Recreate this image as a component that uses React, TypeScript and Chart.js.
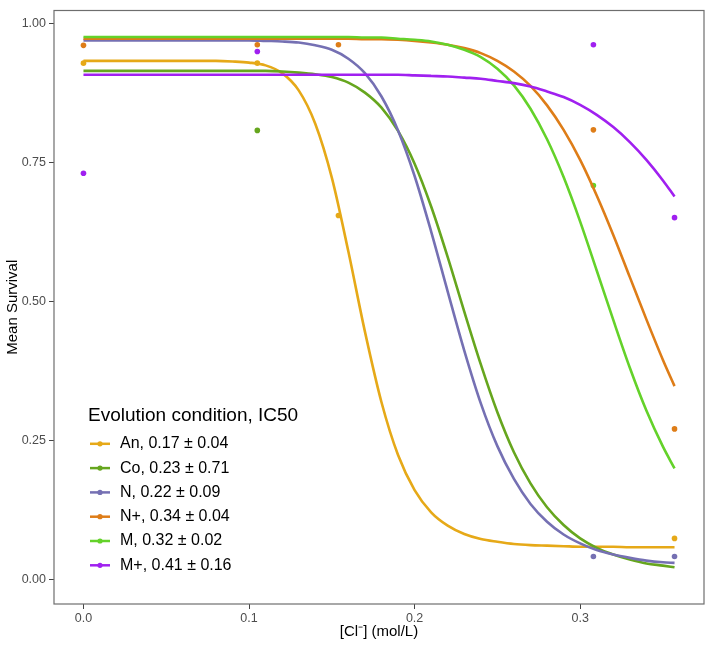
import React, { useEffect, useRef } from 'react';
import { Chart, registerables } from 'chart.js';

Chart.register(...registerables);

// ---------- data ----------
const SERIES_NAMES = ['An', 'Co', 'N', 'N+', 'M', 'M+'];
const IC50_TEXT = ['0.17 ± 0.04', '0.23 ± 0.71', '0.22 ± 0.09', '0.34 ± 0.04', '0.32 ± 0.02', '0.41 ± 0.16'];
const SERIES_COLORS = ['#E6A918', '#66A61E', '#7570B3', '#DE7D18', '#64D22A', '#A020F0'];
const LEGEND_TITLE = 'Evolution condition, IC50';
const X_TITLE = '[Cl\u207B] (mol/L)';
const Y_TITLE = 'Mean Survival';

// concentrations at which the fitted curves were read
const CONC_GRID = [0, 0.01, 0.02, 0.03, 0.04, 0.05, 0.06, 0.07, 0.08, 0.09, 0.10, 0.11, 0.12, 0.13, 0.14, 0.15, 0.16, 0.17, 0.18, 0.19, 0.20, 0.21, 0.22, 0.23, 0.24, 0.25, 0.26, 0.27, 0.28, 0.29, 0.30, 0.31, 0.32, 0.33, 0.34, 0.35, 0.357];

// fitted curves
const FIT_AN = [0.933, 0.933, 0.933, 0.933, 0.933, 0.933, 0.933, 0.933, 0.933, 0.932, 0.930, 0.925, 0.911, 0.880, 0.820, 0.723, 0.590, 0.446, 0.319, 0.224, 0.161, 0.121, 0.097, 0.082, 0.073, 0.068, 0.064, 0.062, 0.061, 0.060, 0.059, 0.059, 0.059, 0.058, 0.058, 0.058, 0.058];
const FIT_CO = [0.915, 0.915, 0.915, 0.915, 0.915, 0.915, 0.915, 0.915, 0.915, 0.915, 0.915, 0.915, 0.914, 0.912, 0.909, 0.904, 0.894, 0.876, 0.849, 0.807, 0.748, 0.671, 0.580, 0.482, 0.387, 0.301, 0.229, 0.173, 0.130, 0.098, 0.074, 0.057, 0.045, 0.036, 0.029, 0.025, 0.022];
const FIT_N = [0.970, 0.970, 0.970, 0.970, 0.970, 0.970, 0.970, 0.970, 0.970, 0.970, 0.970, 0.969, 0.968, 0.966, 0.961, 0.953, 0.937, 0.911, 0.869, 0.808, 0.726, 0.626, 0.518, 0.412, 0.317, 0.240, 0.181, 0.136, 0.104, 0.081, 0.065, 0.053, 0.045, 0.039, 0.034, 0.031, 0.030];
const FIT_NPLUS = [0.973, 0.973, 0.973, 0.973, 0.973, 0.973, 0.973, 0.973, 0.973, 0.973, 0.973, 0.973, 0.973, 0.973, 0.973, 0.973, 0.973, 0.972, 0.972, 0.971, 0.969, 0.966, 0.962, 0.956, 0.947, 0.933, 0.914, 0.888, 0.853, 0.809, 0.755, 0.691, 0.620, 0.544, 0.468, 0.395, 0.348];
const FIT_M = [0.976, 0.976, 0.976, 0.976, 0.976, 0.976, 0.976, 0.976, 0.976, 0.976, 0.976, 0.976, 0.976, 0.976, 0.976, 0.976, 0.976, 0.975, 0.975, 0.973, 0.971, 0.968, 0.962, 0.953, 0.940, 0.919, 0.889, 0.847, 0.792, 0.724, 0.644, 0.556, 0.467, 0.381, 0.304, 0.239, 0.200];
const FIT_MPLUS = [0.908, 0.908, 0.908, 0.908, 0.908, 0.908, 0.908, 0.908, 0.908, 0.908, 0.908, 0.908, 0.908, 0.908, 0.908, 0.908, 0.908, 0.908, 0.908, 0.908, 0.907, 0.906, 0.905, 0.903, 0.901, 0.897, 0.893, 0.887, 0.878, 0.868, 0.854, 0.836, 0.814, 0.787, 0.755, 0.718, 0.689];

// observed mean survival
const OBS_AN_X = [0, 0.105, 0.154, 0.357];
const OBS_AN_Y = [0.929, 0.929, 0.655, 0.074];
const OBS_CO_X = [0.105];
const OBS_CO_Y = [0.808];
const OBS_N_X = [0.308, 0.357];
const OBS_N_Y = [0.0415, 0.0415];
const OBS_NPLUS_X = [0, 0.105, 0.154, 0.308, 0.357];
const OBS_NPLUS_Y = [0.961, 0.962, 0.962, 0.809, 0.271];
const OBS_M_X = [0.308];
const OBS_M_Y = [0.709];
const OBS_MPLUS_X = [0, 0.105, 0.308, 0.357];
const OBS_MPLUS_Y = [0.731, 0.950, 0.962, 0.651];

const X_TICKS = [0, 0.1, 0.2, 0.3];
const X_TICK_LABELS = ['0.0', '0.1', '0.2', '0.3'];
const Y_TICKS = [0, 0.25, 0.5, 0.75, 1];
const Y_TICK_LABELS = ['0.00', '0.25', '0.50', '0.75', '1.00'];

const X_MIN = -0.0178;
const X_MAX = 0.3748;
const Y_MIN = -0.044;
const Y_MAX = 1.0237;

const FITS = [FIT_AN, FIT_CO, FIT_N, FIT_NPLUS, FIT_M, FIT_MPLUS];
const OBS_X = [OBS_AN_X, OBS_CO_X, OBS_N_X, OBS_NPLUS_X, OBS_M_X, OBS_MPLUS_X];
const OBS_Y = [OBS_AN_Y, OBS_CO_Y, OBS_N_Y, OBS_NPLUS_Y, OBS_M_Y, OBS_MPLUS_Y];

const FONT = '"Liberation Sans", Arial, Helvetica, sans-serif';

const panelPlugin = {
  id: 'panelAndLegend',
  afterDatasetsDraw(chart: any) {
    const { ctx, chartArea: a } = chart;
    ctx.save();
    ctx.strokeStyle = '#6e6e6e';
    ctx.lineWidth = 1.2;
    ctx.strokeRect(a.left, a.top, a.right - a.left, a.bottom - a.top);

    // legend inside panel
    const lx = a.left;
    ctx.fillStyle = '#000';
    ctx.textAlign = 'left';
    ctx.textBaseline = 'middle';
    ctx.font = `19px ${FONT}`;
    ctx.fillText(LEGEND_TITLE, lx + 34, a.top + 405);
    ctx.font = `16px ${FONT}`;
    SERIES_NAMES.forEach((name, i) => {
      const y = a.top + 433.3 + i * 24.3;
      ctx.strokeStyle = SERIES_COLORS[i];
      ctx.lineWidth = 2.5;
      ctx.beginPath();
      ctx.moveTo(lx + 36, y);
      ctx.lineTo(lx + 56, y);
      ctx.stroke();
      ctx.fillStyle = SERIES_COLORS[i];
      ctx.beginPath();
      ctx.arc(lx + 46, y, 2.6, 0, Math.PI * 2);
      ctx.fill();
      ctx.fillStyle = '#000';
      ctx.fillText(`${name}, ${IC50_TEXT[i]}`, lx + 66, y);
    });
    ctx.restore();
  },
};

export default function App() {
  const ref = useRef<HTMLCanvasElement | null>(null);

  useEffect(() => {
    if (!ref.current) return;
    const datasets: any[] = [];
    SERIES_NAMES.forEach((name, i) => {
      datasets.push({
        type: 'line',
        label: name,
        data: CONC_GRID.map((x, k) => ({ x, y: FITS[i][k] })),
        borderColor: SERIES_COLORS[i],
        backgroundColor: SERIES_COLORS[i],
        borderWidth: 2.6,
        pointRadius: 0,
        fill: false,
        cubicInterpolationMode: 'monotone',
        order: 10 - i,
      });
    });
    SERIES_NAMES.forEach((name, i) => {
      datasets.push({
        type: 'scatter',
        label: name + ' obs',
        data: OBS_X[i].map((x, k) => ({ x, y: OBS_Y[i][k] })),
        backgroundColor: SERIES_COLORS[i],
        borderColor: SERIES_COLORS[i],
        borderWidth: 0,
        pointRadius: 2.8,
        showLine: false,
        order: 30 - i,
      });
    });

    const tickFont = { family: FONT, size: 12.5 };
    const chart = new Chart(ref.current, {
      type: 'scatter',
      data: { datasets },
      options: {
        animation: false,
        responsive: false,
        devicePixelRatio: 1,
        layout: { padding: { left: 0, top: 5, right: 5, bottom: 0 } },
        plugins: { legend: { display: false }, tooltip: { enabled: false }, title: { display: false } },
        scales: {
          x: {
            type: 'linear',
            min: X_MIN,
            max: X_MAX,
            afterBuildTicks: (s: any) => { s.ticks = X_TICKS.map((v) => ({ value: v })); },
            afterFit: (s: any) => { s.height = 43; },
            ticks: {
              callback: (_v: any, i: number) => X_TICK_LABELS[i],
              font: tickFont,
              color: '#4d4d4d',
              padding: 2,
              maxRotation: 0,
              autoSkip: false,
            },
            grid: { drawOnChartArea: false, drawTicks: true, tickLength: 5, tickColor: '#444', tickWidth: 1 },
            border: { display: false },
            title: { display: true, text: X_TITLE, color: '#000', font: { family: FONT, size: 15 }, padding: { top: 0, bottom: 6 } },
          },
          y: {
            type: 'linear',
            min: Y_MIN,
            max: Y_MAX,
            afterBuildTicks: (s: any) => { s.ticks = Y_TICKS.map((v) => ({ value: v })); },
            afterFit: (s: any) => { s.width = 54; },
            ticks: {
              callback: (_v: any, i: number) => Y_TICK_LABELS[i],
              font: tickFont,
              color: '#4d4d4d',
              padding: 3,
              autoSkip: false,
            },
            grid: { drawOnChartArea: false, drawTicks: true, tickLength: 5, tickColor: '#444', tickWidth: 1 },
            border: { display: false },
            title: { display: true, text: Y_TITLE, color: '#000', font: { family: FONT, size: 15 }, padding: { top: 4, bottom: 0 } },
          },
        },
      },
      plugins: [panelPlugin],
    } as any);
    return () => chart.destroy();
  }, []);

  return (
    <div style={{ position: 'absolute', left: 0, top: 0, width: 709, height: 647, background: '#fff' }}>
      <canvas ref={ref} width={709} height={647} style={{ display: 'block' }} />
    </div>
  );
}
